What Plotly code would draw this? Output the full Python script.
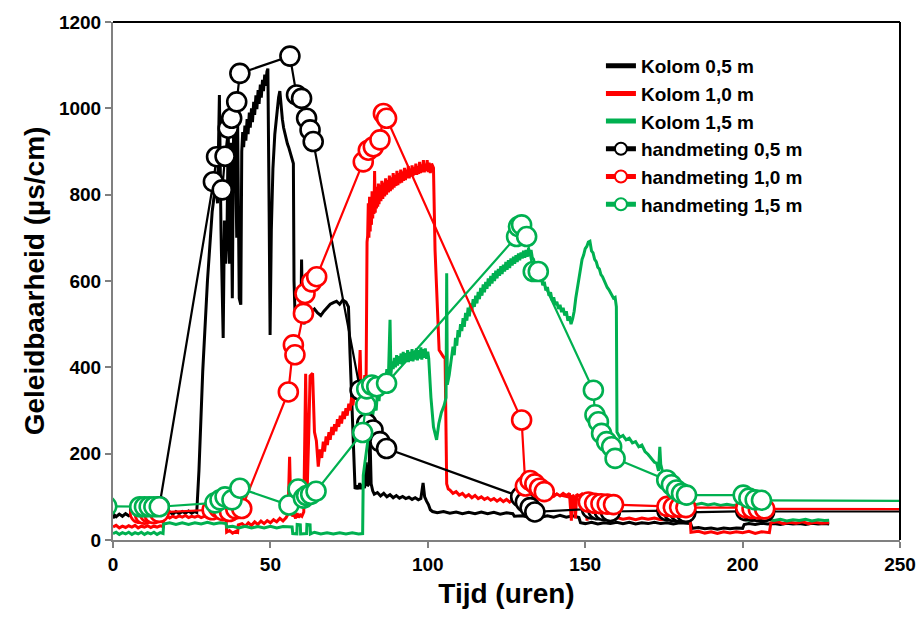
import plotly.graph_objects as go

# ---- logger series: (time in hours, conductivity in uS/cm) ----
kolom_05 = [
    (0.0, 50), (0.4, 58), (1.0, 54), (2, 60), (3, 55), (4, 61), (5, 56), (6, 60), (7, 55),
    (8, 61), (9, 57), (10, 62), (11, 57), (12, 62), (13, 58), (14, 63), (15, 58), (16, 64),
    (17, 60), (18, 65), (19, 60), (20, 66), (21, 61), (22, 66), (23, 62), (24, 67), (25, 62),
    (26, 66), (26.6, 64), (27.3, 160), (28.5, 390), (30.0, 600), (31.5, 760), (32.7, 830),
    (33.2, 780), (33.8, 1031), (34.3, 720), (35.0, 468), (35.4, 740), (35.8, 640), (36.2, 700),
    (36.6, 960), (37.0, 640), (37.4, 920), (37.9, 560), (38.3, 940), (38.8, 980), (39.3, 700),
    (39.6, 960), (40.1, 560), (40.6, 545), (40.9, 900), (41.2, 945), (41.5, 910), (41.9, 960),
    (42.2, 925), (42.6, 975), (42.9, 940), (43.3, 990), (43.6, 955), (44.0, 1000), (44.3, 968),
    (44.7, 1015), (45.0, 985), (45.4, 1030), (45.7, 998), (46.1, 1042), (46.4, 1010),
    (46.8, 1055), (47.1, 1025), (47.5, 1066), (47.8, 1040), (48.2, 1078), (48.5, 1052),
    (48.9, 1085), (49.2, 1092), (49.6, 760), (49.9, 475), (50.3, 720), (50.8, 860), (51.4, 940),
    (52.0, 990), (52.6, 1025), (53.0, 1040), (53.4, 1000), (53.8, 975), (54.2, 955), (54.6, 940),
    (55.0, 930), (55.4, 918), (55.8, 910), (56.2, 900), (56.6, 890), (57.0, 880), (57.3, 872),
    (57.5, 600), (57.8, 530), (58.3, 520), (58.8, 535), (59.3, 505), (59.7, 520), (59.9, 650),
    (60.2, 520), (60.7, 500), (61.2, 515), (62, 520), (63, 528), (64, 535), (65, 526), (66, 520),
    (67, 530), (68, 537), (69, 546), (70, 550), (71, 553), (72, 546), (73, 556), (74, 551),
    (74.8, 540), (75.3, 430), (75.8, 332), (76.3, 210), (76.9, 118), (77.4, 126), (77.9, 118),
    (78.4, 132), (78.9, 118), (79.4, 128), (79.9, 120), (80.4, 180), (80.8, 125), (81.3, 130),
    (81.6, 250), (82.0, 130), (82.5, 114), (83, 106), (84, 110), (85, 102), (86, 108), (87, 100),
    (88, 105), (89, 98), (90, 103), (91, 97), (92, 101), (93, 96), (94, 99), (95, 94), (96, 98),
    (97, 93), (97.8, 96), (98.5, 132), (99.0, 100), (99.6, 90), (100.2, 82), (100.8, 70),
    (101.5, 66), (103, 63), (105, 66), (107, 62), (109, 65), (111, 61), (113, 64), (115, 61),
    (117, 65), (119, 61), (121, 64), (123, 60), (125, 63), (127, 61), (127.5, 55), (130, 56),
    (132, 53), (134, 57), (136, 53), (138, 56), (140, 53), (142, 57), (144, 53), (146, 56),
    (148, 52), (148.5, 40), (150, 38), (152, 41), (154, 37), (156, 40), (158, 38), (160, 41),
    (162, 38), (164, 41), (166, 37), (168, 40), (170, 38), (172, 41), (174, 38), (176, 40),
    (178, 37), (180, 40), (182, 38), (183.5, 38), (184, 27), (186, 29), (188, 26), (190, 28),
    (192, 25), (194, 28), (196, 26), (198, 28), (200, 27), (200.5, 36), (202, 38), (204, 36),
    (206, 39), (208, 37), (210, 38), (212, 36), (214, 39), (216, 37), (218, 38), (220, 36),
    (222, 39), (224, 37), (226, 38), (227.5, 37),
]

kolom_10 = [
    (0, 30), (1, 34), (2, 28), (3, 32), (4, 29), (5, 33), (6, 30), (7, 34), (8, 28), (9, 32),
    (10, 30), (11, 33), (12, 29), (13, 32), (14, 30), (15, 33), (15.9, 31), (16.1, 52), (17, 56),
    (18, 51), (19, 55), (20, 52), (21, 56), (22, 53), (23, 57), (24, 52), (25, 55), (26, 53),
    (27, 56), (28, 52), (29, 55), (30, 53), (31, 56), (32, 52), (33, 55), (34, 53), (35, 56),
    (35.9, 54), (36.1, 18), (37, 22), (38, 16), (39, 20), (39.6, 18), (39.8, 35), (41, 38),
    (42, 32), (43, 40), (44, 34), (45, 42), (46, 36), (47, 44), (48, 38), (49, 45), (50, 40),
    (51, 47), (52, 42), (53, 50), (54, 44), (55, 52), (55.6, 60), (56.1, 193), (56.5, 70),
    (57, 55), (57.5, 60), (58, 50), (58.5, 62), (59, 52), (59.5, 58), (60, 55), (60.6, 65),
    (61.2, 385), (61.7, 120), (62.2, 250), (62.6, 380), (63.4, 386), (64.0, 250), (64.6, 230),
    (65.2, 170), (65.8, 210), (66.3, 190), (66.8, 228), (67.2, 205), (67.7, 240), (68.1, 220),
    (68.6, 250), (69.0, 232), (69.5, 262), (69.9, 243), (70.4, 268), (70.8, 252), (71.3, 280),
    (71.7, 262), (72.2, 288), (72.6, 270), (73.1, 298), (73.5, 280), (74.0, 305), (74.4, 288),
    (74.9, 316), (75.3, 300), (75.8, 330), (76.2, 312), (76.7, 340), (77.1, 325), (77.6, 352),
    (78.0, 338), (78.5, 440), (78.8, 345), (79.2, 372), (79.6, 356), (80.0, 382), (80.4, 368),
    (80.7, 690), (80.9, 705), (81.1, 780), (81.3, 700), (81.5, 795), (81.7, 715), (81.9, 790),
    (82.1, 730), (82.3, 808), (82.5, 745), (82.7, 800), (82.9, 755), (83.1, 855), (83.3, 758),
    (83.5, 818), (83.7, 768), (83.9, 812), (84.1, 772), (84.3, 826), (84.5, 778), (84.8, 822),
    (85.1, 785), (85.4, 832), (85.7, 790), (86.0, 828), (86.3, 796), (86.6, 838), (86.9, 800),
    (87.2, 834), (87.5, 805), (87.8, 844), (88.1, 808), (88.4, 840), (88.7, 812), (89.0, 850),
    (89.3, 816), (89.6, 846), (89.9, 820), (90.2, 855), (90.5, 822), (90.8, 850), (91.1, 826),
    (91.4, 858), (91.7, 828), (92.0, 854), (92.3, 832), (92.6, 862), (92.9, 834), (93.2, 858),
    (93.5, 838), (93.8, 866), (94.1, 838), (94.4, 860), (94.7, 842), (95.0, 868), (95.3, 843),
    (95.6, 864), (95.9, 846), (96.2, 872), (96.5, 846), (96.8, 866), (97.1, 848), (97.4, 876),
    (97.7, 850), (98.0, 870), (98.3, 852), (98.6, 880), (98.9, 852), (99.2, 872), (99.5, 855),
    (99.8, 880), (100.1, 852), (100.4, 874), (100.8, 850), (101.2, 872), (101.8, 862),
    (102.3, 672), (103.0, 520), (103.6, 440), (104.9, 425), (105.5, 420), (106.0, 130),
    (106.5, 118), (107, 116), (108, 108), (109, 112), (110, 104), (111, 108), (112, 100),
    (113, 105), (114, 98), (115, 103), (116, 96), (117, 100), (118, 94), (119, 98), (120, 92),
    (121, 96), (122, 90), (123, 95), (124, 89), (125, 94), (126, 88), (127, 93), (128, 89),
    (129, 94), (130, 92), (131, 100), (132, 96), (133, 103), (134, 98), (135, 104), (136, 99),
    (137, 105), (138, 100), (139, 106), (140, 101), (141, 107), (142, 102), (143, 108),
    (144, 103), (145, 108), (145.6, 45), (146.0, 104), (146.5, 100), (146.9, 50), (147.3, 106),
    (148, 102), (149, 107), (150, 100), (150.6, 45), (151.0, 98), (151.5, 78), (153, 76),
    (155, 74), (157, 76), (158, 74), (158.5, 50), (160, 52), (162, 48), (164, 51), (166, 47),
    (168, 51), (170, 48), (172, 51), (174, 47), (176, 50), (178, 47), (180, 50), (182, 48),
    (183.3, 49), (183.6, 18), (186, 20), (188, 16), (190, 19), (192, 15), (194, 19), (196, 16),
    (198, 19), (200, 17), (202, 20), (204, 15), (206, 19), (208.5, 17), (209.0, 40), (211, 42),
    (213, 38), (215, 41), (217, 39), (219, 42), (221, 38), (223, 41), (225, 39), (227.5, 40),
]

kolom_15 = [
    (0, 15), (1, 18), (2, 13), (3, 17), (4, 14), (5, 18), (6, 13), (7, 17), (8, 14), (9, 18),
    (10, 13), (11, 17), (12, 14), (13, 18), (14, 13), (15, 17), (15.9, 15), (16.1, 37),
    (18, 40), (20, 36), (22, 40), (24, 36), (26, 40), (28, 37), (30, 41), (32, 37), (34, 40),
    (35.9, 38), (36.1, 30), (38, 32), (40, 28), (42, 32), (44, 28), (46, 31), (48, 28), (50, 32),
    (52, 28), (54, 31), (56.9, 30), (57.1, 15), (58.4, 14), (58.5, 36), (59.5, 35), (59.6, 14),
    (61.5, 15), (61.6, 36), (62.6, 35), (62.7, 14), (64, 18), (66, 14), (68, 17), (70, 14),
    (72, 17), (74, 14), (76, 17), (78, 14), (79.3, 15), (79.5, 150), (80.0, 178), (80.6, 205),
    (81.0, 232), (81.5, 262), (82.0, 324), (82.4, 285), (83.0, 312), (83.6, 300), (84.0, 342),
    (84.5, 322), (85.0, 362), (85.5, 345), (86.0, 380), (86.5, 365), (87.0, 396), (87.5, 380),
    (88.0, 510), (88.3, 385), (88.7, 414), (89.0, 396), (89.4, 422), (89.7, 400), (90.1, 428),
    (90.4, 404), (90.8, 426), (91.1, 408), (91.5, 432), (91.8, 406), (92.2, 436), (92.5, 410),
    (92.9, 433), (93.2, 412), (93.6, 440), (93.9, 412), (94.3, 436), (94.6, 415), (95.0, 442),
    (95.3, 414), (95.7, 438), (96.0, 418), (96.4, 444), (96.7, 416), (97.1, 440), (97.4, 420),
    (97.8, 446), (98.1, 418), (98.5, 442), (98.8, 422), (99.2, 444), (99.6, 420), (100.0, 436),
    (100.3, 420), (101.0, 330), (101.8, 262), (102.8, 232), (103.5, 270), (104.3, 295),
    (105.2, 312), (105.8, 330), (106.0, 618), (106.2, 360), (106.8, 382), (107.4, 420),
    (108.0, 448), (108.4, 428), (108.8, 468), (109.2, 450), (109.6, 486), (110.0, 470),
    (110.4, 500), (110.8, 484), (111.2, 514), (111.6, 494), (112.0, 526), (112.4, 508),
    (112.8, 538), (113.2, 518), (113.6, 548), (114.0, 530), (114.4, 558), (114.8, 540),
    (115.2, 566), (115.6, 548), (116.0, 575), (116.4, 558), (116.8, 584), (117.2, 566),
    (117.6, 592), (118.0, 574), (118.4, 598), (118.8, 582), (119.2, 606), (119.6, 588),
    (120.0, 612), (120.4, 594), (120.8, 618), (121.2, 600), (121.6, 624), (122.0, 606),
    (122.4, 628), (122.8, 612), (123.2, 634), (123.6, 616), (124.0, 638), (124.4, 622),
    (124.8, 644), (125.2, 626), (125.6, 648), (126.0, 630), (126.4, 652), (126.8, 636),
    (127.2, 656), (127.6, 640), (128.0, 660), (128.4, 644), (128.8, 664), (129.2, 648),
    (129.6, 666), (130.0, 652), (130.4, 670), (130.8, 654), (131.2, 672), (131.6, 656),
    (132.0, 676), (132.4, 658), (132.8, 672), (133.2, 654), (133.6, 650), (134, 636),
    (134.5, 620), (135, 628), (135.5, 605), (136, 612), (136.5, 590), (137, 598), (137.5, 578),
    (138, 586), (138.5, 566), (139, 574), (139.5, 555), (140, 562), (140.5, 544), (141, 552),
    (141.5, 535), (142, 545), (142.5, 528), (143, 538), (143.5, 520), (144, 530), (144.5, 508),
    (145, 518), (145.5, 500), (146, 512), (146.5, 530), (147, 560), (147.5, 585), (148, 610),
    (148.5, 630), (149, 650), (149.5, 660), (150, 675), (150.5, 680), (151, 690), (151.5, 692),
    (152, 670), (152.5, 665), (153, 650), (153.5, 645), (154, 632), (154.5, 628), (155, 615),
    (155.5, 610), (156, 600), (156.5, 595), (157, 585), (157.5, 580), (158, 572), (158.5, 568),
    (159, 560), (159.5, 562), (159.9, 540), (160.1, 250), (161, 238), (162, 242), (163, 232),
    (164, 236), (165, 225), (166, 228), (167, 216), (168, 220), (169, 205), (170, 198),
    (171, 190), (172, 180), (172.7, 178), (173.3, 160), (173.7, 216), (174.0, 175),
    (174.5, 160), (175.0, 145), (175.9, 132), (176.5, 95), (177, 88), (178, 85), (179, 88),
    (180, 84), (181, 87), (182, 83), (183, 86), (185, 82), (187, 85), (189, 81), (191, 84),
    (193, 80), (195, 83), (197, 80), (199, 82), (200.5, 48), (202, 46), (204, 49), (206, 45),
    (208, 48), (210, 45), (212, 48), (214, 44), (216, 47), (218, 45), (220, 48), (222, 44),
    (224, 47), (226, 45), (227.5, 46),
]

# ---- manual measurements ----
hand_05_t = [8.5, 10, 11.5, 13, 14.7, 31.9, 32.9, 34.7, 35.6, 36.6, 37.7, 39.3, 40.3,
             56.2, 58.3, 59.9, 61.5, 62.6, 63.6, 78.5, 80.6, 82.6, 84.8, 86.9,
             129.5, 131, 132.5, 134, 152, 154, 156, 158, 176, 178, 180, 182,
             201, 203, 205, 207, 300]
hand_05_v = [72, 72, 73, 74, 77, 830, 888, 811, 889, 954, 977, 1015, 1081,
             1121, 1031, 1023, 977, 950, 923, 347, 270, 255, 228, 212,
             100, 88, 75, 65, 72, 70, 68, 66, 68, 66, 65, 64,
             68, 67, 66, 66, 66]

hand_10_t = [8.5, 10, 11.5, 13, 14.7, 31.5, 33.5, 35, 37, 39, 40.9,
             55.7, 57.3, 57.8, 60.5, 61, 63.1, 64.7, 79.5, 81.1, 82.7, 84.8, 85.9, 86.9,
             129.8, 131, 132.5, 134, 135.5, 137, 151, 153, 155, 157, 159,
             176, 178, 180, 182, 201, 203, 205, 207, 300]
hand_10_v = [62, 60, 63, 61, 64, 70, 75, 68, 66, 72, 73,
             343, 452, 429, 525, 571, 598, 610, 876, 903, 911, 927, 988, 977,
             278, 125, 138, 130, 120, 112, 88, 85, 84, 83, 82,
             78, 76, 76, 75, 75, 73, 72, 72, 71]

hand_15_t = [-2, 8.5, 10, 11.5, 13, 14.7, 32.4, 34, 35.6, 37.8, 40.3,
             55.9, 58.8, 60.5, 61.5, 62.8, 64.5, 79.3, 80.3, 80.6, 82.2, 83.8, 86.9,
             128.2, 128.8, 129.8, 131.4, 133.5, 135.1,
             152.6, 153.1, 154.2, 155.2, 156.8, 158.4, 159.5,
             175.9, 177.4, 179, 180.6, 182.2, 200.2, 202, 204, 206, 300]
hand_15_v = [78, 77, 77, 77, 77, 77, 86, 93, 100, 93, 120,
             81, 118, 97, 103, 106, 113, 249, 313, 350, 359, 355, 363,
             703, 726, 730, 703, 622, 622,
             347, 290, 274, 247, 228, 216, 189,
             139, 128, 116, 108, 104, 104, 97, 93, 92, 89]

x_ticks = [0, 50, 100, 150, 200, 250]
y_ticks = [0, 200, 400, 600, 800, 1000, 1200]

BLACK = "#000000"
RED = "#FF0000"
GREEN = "#00B050"
FONT = "Liberation Sans, Arial, sans-serif"

fig = go.Figure()

for name, series, color in [("Kolom 0,5 m", kolom_05, BLACK),
                            ("Kolom 1,0 m", kolom_10, RED),
                            ("Kolom 1,5 m", kolom_15, GREEN)]:
    fig.add_trace(go.Scatter(
        x=[p[0] for p in series], y=[p[1] for p in series],
        mode="lines", name=name,
        line=dict(color=color, width=3),
    ))

for name, t, v, color in [("handmeting 0,5 m", hand_05_t, hand_05_v, BLACK),
                          ("handmeting 1,0 m", hand_10_t, hand_10_v, RED),
                          ("handmeting 1,5 m", hand_15_t, hand_15_v, GREEN)]:
    fig.add_trace(go.Scatter(
        x=t, y=v, mode="lines+markers", name=name,
        line=dict(color=color, width=2.2),
        marker=dict(symbol="circle", size=19, color="white",
                    line=dict(color=color, width=2.6)),
    ))

axis_common = dict(
    showgrid=False, zeroline=False, showline=True, linecolor="#808080", linewidth=2,
    ticks="outside", ticklen=6, tickwidth=1.5, tickcolor="#808080", automargin=False,
    tickfont=dict(family=FONT, size=19, color="black", weight="bold"),
)

fig.update_layout(
    width=921, height=617,
    margin=dict(l=113, r=21, t=22, b=77),
    paper_bgcolor="white", plot_bgcolor="white",
    font=dict(family=FONT, color="black"),
    xaxis=dict(range=[0, 250], tickvals=x_ticks, **axis_common,
               title=dict(text="Tijd (uren)", standoff=10,
                          font=dict(family=FONT, size=28, color="black", weight="bold"))),
    yaxis=dict(range=[0, 1200], tickvals=y_ticks, **axis_common,
               title=dict(text="Geleidbaarheid (µs/cm)", standoff=6,
                          font=dict(family=FONT, size=28, color="black", weight="bold"))),
    legend=dict(x=0.62, y=0.952, xanchor="left", yanchor="top",
                bgcolor="rgba(0,0,0,0)", itemsizing="constant", tracegroupgap=0,
                font=dict(family=FONT, size=19, color="black", weight="bold")),
    showlegend=True,
    shapes=[
        dict(type="line", xref="paper", yref="paper", x0=0, x1=1, y0=1, y1=1,
             line=dict(color="black", width=2)),
        dict(type="line", xref="paper", yref="paper", x0=1, x1=1, y0=0, y1=1,
             line=dict(color="black", width=2)),
    ],
)

fig.write_html("out.html")
